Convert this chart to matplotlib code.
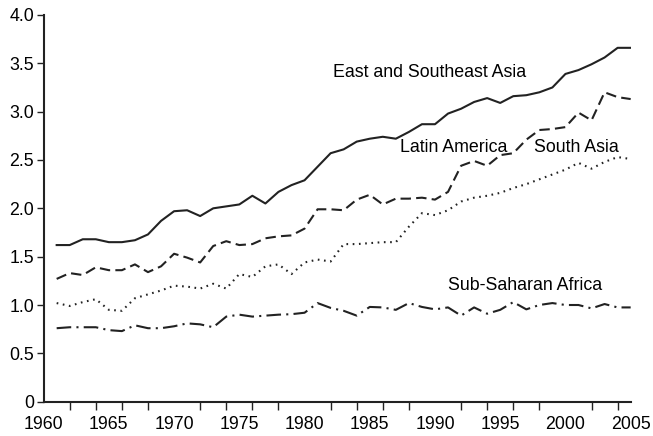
import numpy as np
import matplotlib
matplotlib.use("Agg")
import matplotlib.pyplot as plt

plt.rcParams['font.family'] = ['Liberation Sans', 'DejaVu Sans']

years = np.arange(1961, 2006)

# values
east_se_asia = [1.62, 1.62, 1.68, 1.68, 1.65, 1.65, 1.67, 1.73, 1.87, 1.97,
                1.98, 1.92, 2.00, 2.02, 2.04, 2.13, 2.05, 2.17, 2.24, 2.29,
                2.43, 2.57, 2.61, 2.69, 2.72, 2.74, 2.72, 2.79, 2.87, 2.87,
                2.98, 3.03, 3.10, 3.14, 3.09, 3.16, 3.17, 3.20, 3.25, 3.39,
                3.43, 3.49, 3.56, 3.66, 3.66]
latin_america = [1.27, 1.33, 1.31, 1.39, 1.36, 1.36, 1.42, 1.34, 1.40, 1.53,
                 1.49, 1.44, 1.61, 1.66, 1.62, 1.63, 1.69, 1.71, 1.72, 1.79,
                 1.99, 1.99, 1.98, 2.09, 2.14, 2.04, 2.10, 2.10, 2.11, 2.09,
                 2.17, 2.44, 2.49, 2.44, 2.55, 2.57, 2.71, 2.81, 2.82, 2.84,
                 2.99, 2.91, 3.20, 3.15, 3.13]
south_asia = [1.02, 0.99, 1.03, 1.06, 0.95, 0.94, 1.07, 1.11, 1.15, 1.20,
              1.19, 1.17, 1.22, 1.17, 1.32, 1.29, 1.40, 1.42, 1.32, 1.44,
              1.47, 1.45, 1.63, 1.63, 1.64, 1.65, 1.65, 1.81, 1.95, 1.93,
              1.98, 2.07, 2.11, 2.13, 2.16, 2.21, 2.25, 2.30, 2.35, 2.40,
              2.47, 2.41, 2.48, 2.53, 2.51]
ss_africa = [0.76, 0.77, 0.77, 0.77, 0.74, 0.73, 0.79, 0.76, 0.76, 0.78,
             0.81, 0.80, 0.77, 0.88, 0.90, 0.88, 0.89, 0.90, 0.905, 0.92,
             1.02, 0.97, 0.94, 0.89, 0.98, 0.975, 0.95, 1.02, 0.98, 0.955,
             0.975, 0.89, 0.975, 0.91, 0.95, 1.03, 0.955, 1.00, 1.02, 1.00,
             1.00, 0.965, 1.01, 0.975, 0.975]

fig = plt.figure(figsize=(6.53, 4.36), dpi=100)
ax = fig.add_axes([0.0668, 0.0787, 0.899, 0.887])

col = '#222222'
ax.plot(years, east_se_asia, color=col, lw=1.5, ls='-')
ax.plot(years, latin_america, color=col, lw=1.5, ls=(0, (5, 2.5)))
ax.plot(years, south_asia, color=col, lw=1.5, ls=(0, (0.8, 2.2)))
ax.plot(years, ss_africa, color=col, lw=1.5, ls=(0, (7, 2.5, 1, 2.5)))

# curve labels, placed in figure pixels like the original
fs = 12.8
ax.annotate("East and Southeast Asia", (333, 436 - 72), xycoords='figure pixels', fontsize=fs, va='center')
ax.annotate("Latin America", (400, 436 - 147), xycoords='figure pixels', fontsize=fs, va='center')
ax.annotate("South Asia", (534, 436 - 147), xycoords='figure pixels', fontsize=fs, va='center')
ax.annotate("Sub-Saharan Africa", (448, 436 - 285), xycoords='figure pixels', fontsize=fs, va='center')

ax.set_xlim(1960, 2005)
ax.set_ylim(0, 4)
ax.set_xticks(range(1960, 2006, 5))
ax.set_xticks(range(1962, 2006, 2), minor=True)
ax.tick_params(axis='x', which='major', length=0, labelsize=fs, pad=10)
ax.tick_params(axis='x', which='minor', length=6, width=1.0, color=col)
ax.set_yticks(np.arange(0, 4.01, 0.5))
ax.set_yticklabels(['0'] + ['%.1f' % v for v in np.arange(0.5, 4.01, 0.5)])
ax.tick_params(axis='y', length=5, width=1.0, color=col, labelsize=fs, pad=2)

for s in ['top', 'right']:
    ax.spines[s].set_visible(False)
for s in ['left', 'bottom']:
    ax.spines[s].set_linewidth(1.5)
    ax.spines[s].set_color(col)

fig.savefig("out.png", dpi=100)
